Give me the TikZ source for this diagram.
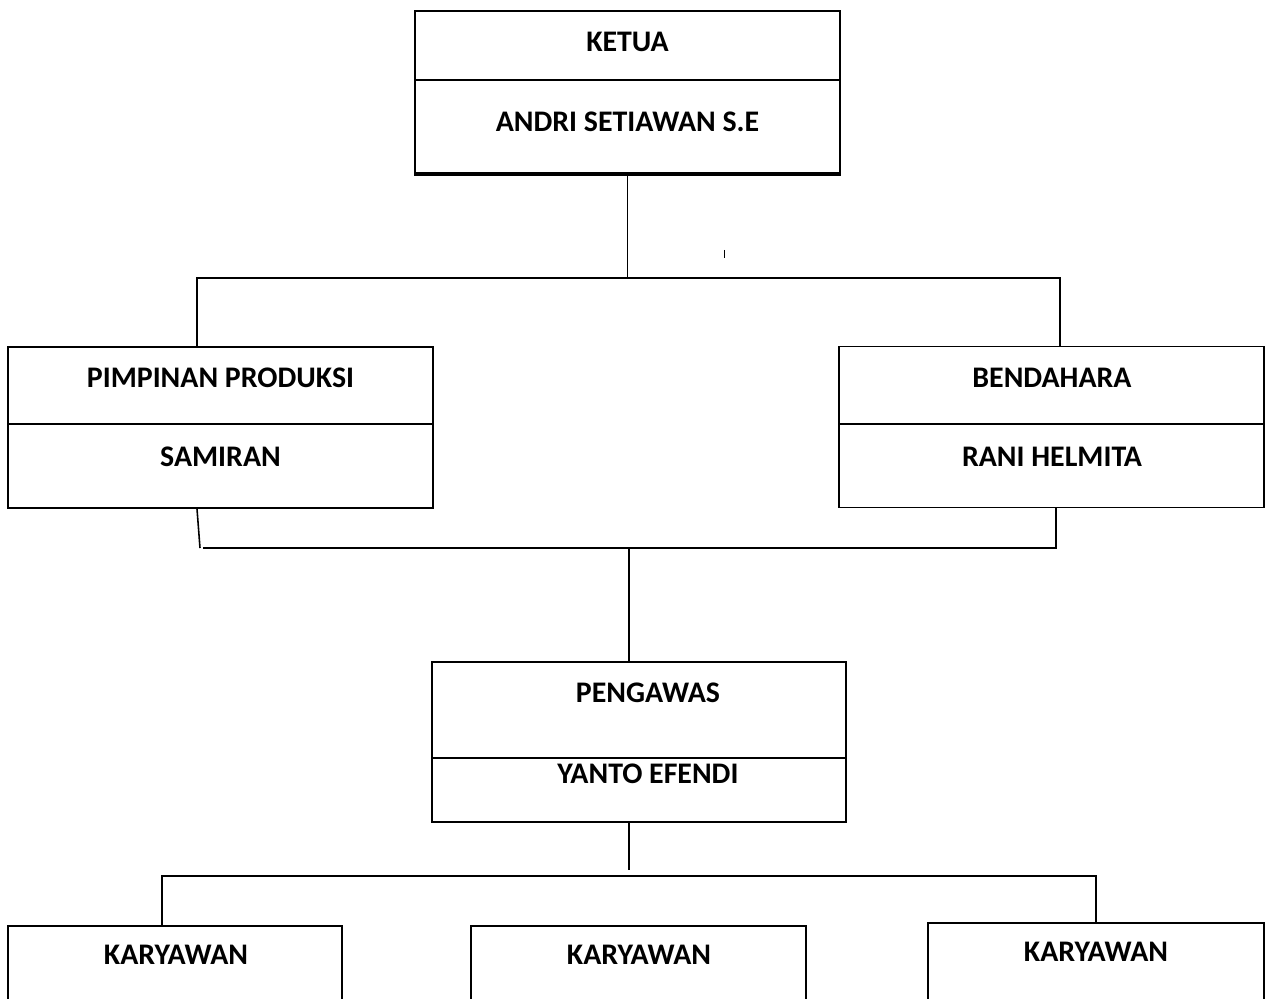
\documentclass[tikz,border=0pt]{standalone}
\usepackage{fontspec}
\setmainfont{Carlito}
\usetikzlibrary{positioning}

\tikzset{
		box/.style={draw, black, line width=1pt, minimum width=8.5cm, minimum height=3.22cm, inner sep=0pt},
		lbl/.style={font=\fontsize{17}{20}\selectfont\bfseries, inner sep=0pt},
		link/.style={black, line width=0.9pt}
	}

\begin{document}
\begin{tikzpicture}

\clip (0,0) rectangle (25.4,-19.98);
\fill[white] (0,0) rectangle (25.4,-19.98);

\node (ketua) at (12.55,-1.84) [box,minimum height=3.24cm] {};
\draw [link] (ketua.west |- 0,-1.6) -- (ketua.east |- 0,-1.6);
\draw [line width=1.6pt] ([yshift=-0.5pt]ketua.south west) -- ([yshift=-0.5pt]ketua.south east);
\node (ketuaT) at (12.55,-0.84) [lbl] {KETUA};
\node (ketuaN) at (12.55,-2.44) [lbl] {ANDRI SETIAWAN S.E};

\node (pimpinan) at (4.41,-8.55) [box] {};
\draw [link] (pimpinan.west |- 0,-8.48) -- (pimpinan.east |- 0,-8.48);
\node (pimpinanT) at (4.41,-7.56) [lbl] {PIMPINAN PRODUKSI};
\node (pimpinanN) at (4.41,-9.14) [lbl] {SAMIRAN};

\node (bendahara) at (21.03,-8.54) [box] {};
\draw [link] (bendahara.west |- 0,-8.48) -- (bendahara.east |- 0,-8.48);
\node (bendaharaT) at (21.04,-7.56) [lbl] {BENDAHARA};
\node (bendaharaN) at (21.04,-9.14) [lbl] {RANI HELMITA};

\node (pengawas) at (12.78,-14.84) [box,minimum width=8.28cm,minimum height=3.2cm] {};
\draw [link] (pengawas.west |- 0,-15.16) -- (pengawas.east |- 0,-15.16);
\node (pengawasT) at (12.96,-13.86) [lbl] {PENGAWAS};
\node (pengawasN) at (12.96,-15.48) [lbl] {YANTO EFENDI};

\node (kary1) at (3.5,-19.5) [box,minimum width=6.68cm,minimum height=1.96cm] {};
\node (kary2) at (12.77,-19.5) [box,minimum width=6.7cm,minimum height=1.96cm] {};
\node (kary3) at (21.92,-19.44) [box,minimum width=6.72cm,minimum height=1.96cm] {};
\node (kary1T) at (3.52,-19.1) [lbl] {KARYAWAN};
\node (kary2T) at (12.78,-19.1) [lbl] {KARYAWAN};
\node (kary3T) at (21.92,-19.04) [lbl] {KARYAWAN};

% lines
\coordinate (busA) at (12.55,-5.56);
\coordinate (busB) at (4.06,-10.96);
\coordinate (busC) at (12.58,-17.52);

\draw [link] (ketua.south) -- (busA);
\draw [link] ([xshift=-0.47cm]pimpinan.north) |- ([xshift=0.17cm]bendahara.north |- busA) -- ([xshift=0.17cm]bendahara.north);
\draw [line width=0.5pt] (14.48,-5.0) -- (14.48,-5.16);

\draw [link] ([xshift=-0.47cm]pimpinan.south) -- ([xshift=-0.06cm]busB);
\draw [link] (busB) -| ([xshift=0.09cm]bendahara.south);
\draw [link] (busB -| busC) -- ([xshift=-0.2cm]pengawas.north);

\draw [link] ([xshift=-0.2cm]pengawas.south) -- ([yshift=0.12cm]busC);
\draw [link] ([xshift=-0.26cm]kary1.north) |- (kary3.north |- busC) -- (kary3.north);

\end{tikzpicture}
\end{document}
